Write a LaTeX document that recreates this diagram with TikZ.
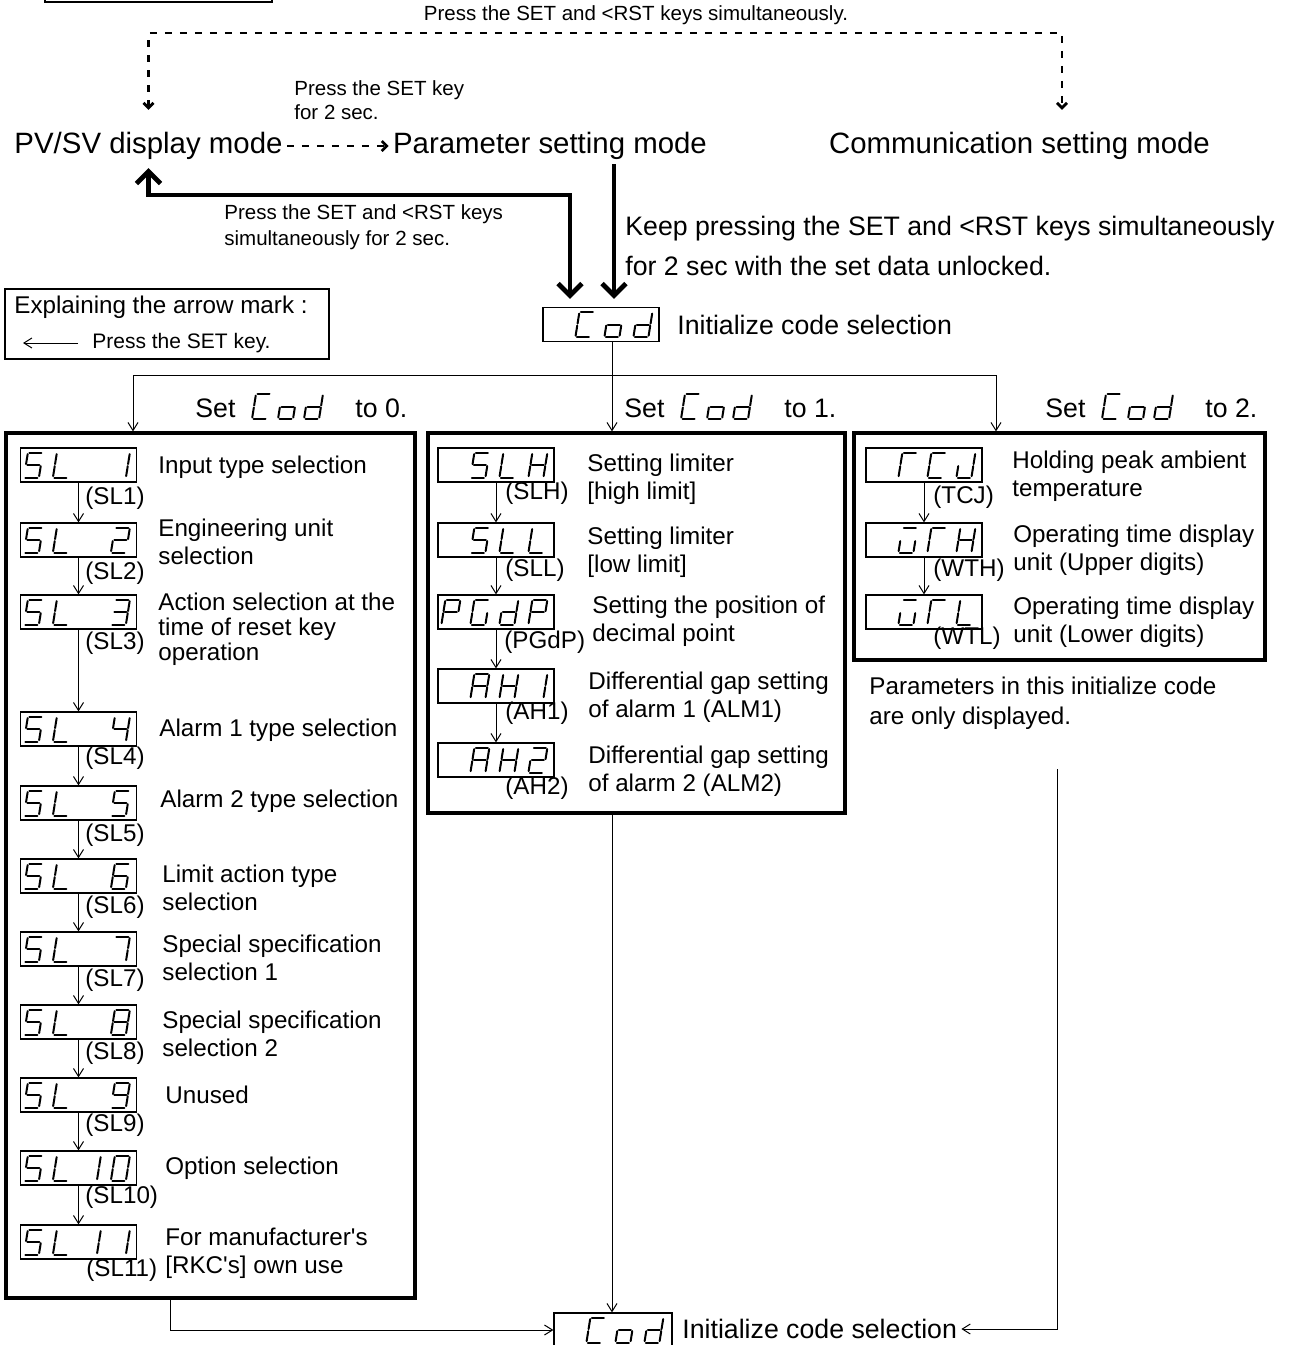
\documentclass[tikz,border=0pt]{standalone}
\usepackage{fontspec}
\setmainfont{Liberation Sans}
\usetikzlibrary{calc}
\usetikzlibrary{arrows.meta}

% seven segment display: segment paths (local units, y up)
\expandafter\def\csname segpatha\endcsname{(1.5,25) -- (13.5,25)}
\expandafter\def\csname segpathb\endcsname{(15,23.5) -- (15,13.5)}
\expandafter\def\csname segpathc\endcsname{(15,11.5) -- (15,1.5)}
\expandafter\def\csname segpathd\endcsname{(1.5,0) -- (13.5,0)}
\expandafter\def\csname segpathe\endcsname{(0,1.5) -- (0,11.5)}
\expandafter\def\csname segpathf\endcsname{(0,13.5) -- (0,23.5)}
\expandafter\def\csname segpathg\endcsname{(1.5,12.5) -- (13.5,12.5)}

% glyphs
\def\sgS{a,f,g,c,d}
\def\sgL{f,e,d}
\def\sgOne{b,c}
\def\sgTwo{a,b,g,e,d}
\def\sgThree{a,b,g,c,d}
\def\sgFour{f,g,b,c}
\def\sgFive{a,f,g,c,d}
\def\sgSix{a,f,g,e,d,c}
\def\sgSeven{a,b,c}
\def\sgEight{a,b,c,d,e,f,g}
\def\sgNine{a,b,c,d,f,g}
\def\sgZero{a,b,c,d,e,f}
\def\sgH{b,c,e,f,g}
\def\sgP{a,b,e,f,g}
\def\sgG{a,c,d,e,f}
\def\sgd{b,c,d,e,g}
\def\sgA{a,b,c,e,f,g}
\def\sgT{a,e,f}
\def\sgC{a,d,e,f}
\def\sgJ{b,c,d,e}
\def\sgW{a,c,d,e}
\def\sgo{c,d,e,g}

\newcommand\segdigit[2]{%
	\begin{scope}[shift={#1}, yscale=-1, xslant=-0.16]
		\edef\seglist{#2}
		\foreach \s in \seglist {\edef\segcmd{\noexpand\draw[seg] \csname segpath\s\endcsname;}\segcmd}
	\end{scope}}
% #1 display node, #2 cell 0..3, #3 glyph
\newcommand\dispchar[3]{\segdigit{($(#1.south west)+(4+29*#2,-5)$)}{#3}}

\tikzset{
	seg/.style={line width=1pt, line cap=round},
	dispbox/.style={
		draw,
		line width=0.6pt,
		minimum width=58pt,
		minimum height=17pt,
		inner sep=0pt,
	},
	frame/.style={
		draw,
		line width=1.6pt,
		inner sep=0pt,
	},
	title/.style={font=\fontsize{14.7}{17}\selectfont, inner sep=2pt},
	big/.style={font=\fontsize{13.35}{20}\selectfont, inner sep=0pt, align=left},
	body/.style={font=\fontsize{12.1}{14}\selectfont, inner sep=0pt, align=left, anchor=west},
	small/.style={font=\fontsize{10.25}{13}\selectfont, inner sep=0pt, align=left},
	flow/.style={
		line width=0.5pt,
		-{Straight Barb[length=4pt,width=5pt]}
	},
	thickflow/.style={
		line width=2.4pt,
		shorten >=4pt,
		-{Straight Barb[length=6pt,width=12pt]}
	},
	thickboth/.style={
		line width=2.4pt,
		shorten <=4pt,
		shorten >=2pt,
		{Straight Barb[length=6pt,width=12pt]}-{Straight Barb[length=6pt,width=12pt]}
	},
	dashflow/.style={
		line width=1.4pt,
		dash pattern=on 3.5pt off 4pt,
		-{Straight Barb[length=2.5pt,width=5pt]}
	},
	dashboth/.style={
		dashflow,
		shorten <=9pt,
		shorten >=9pt,
		{Straight Barb[length=2.5pt,width=5pt]}-{Straight Barb[length=2.5pt,width=5pt]}
	},
}

\begin{document}
\begin{tikzpicture}[x=0.5pt, y=-0.5pt]
	\useasboundingbox (0,0) rectangle (1289,1345);

	% box cut off by the top edge
	\node[dispbox, line width=0.9pt, minimum width=113.5pt] (topbox) at (158.5,-15) {};

	% modes
	\node[title] (pv)   at (148.5,146) {PV/SV display mode};
	\node[title] (par)  at (550,146)   {Parameter setting mode};
	\node[title] (comm) at (1019.5,146) {Communication setting mode};

	\node[small] (toptxt) at (636,15) {Press the SET and <RST keys simultaneously.};
	\coordinate (dashtop) at (1062,33);
	\draw[dashboth] (pv.north) |- (dashtop) -- (comm.north -| dashtop);

	\draw[dashflow] (pv.east) -- (par.west);
	\node[small, anchor=west, font=\fontsize{10.25}{12}\selectfont] (pvtxt) at (294,100) {Press the SET key\\for 2 sec.};

	% initialize code selection
	\node[dispbox] (cod) at (601,324.5) {};
	\dispchar{cod}{1}{\sgC}\dispchar{cod}{2}{\sgo}\dispchar{cod}{3}{\sgd}
	\node[big, anchor=west] (codtxt) at (677,325) {Initialize code selection};

	\draw[thickflow] (par.south -| 614,0) -- (cod.north -| 614,0);
	\draw[thickboth] (cod.north -| 570,0) |- (pv.south |- 0,195) -- (pv.south);

	\node[small, anchor=west] (rettxt) at (224,227) {Press the SET and <RST keys\\simultaneously for 2 sec.};
	\node[big, anchor=west] (keeptxt) at (625,246) {Keep pressing the SET and <RST keys simultaneously\\for 2 sec with the set data unlocked.};

	% arrow legend
	\node[draw, line width=0.6pt, minimum width=162pt, minimum height=35pt, inner sep=0pt] (legend) at (167,324) {};
	\node[body] (legtitle) at (14,307) {Explaining the arrow mark :};
	\node[small, anchor=west, font=\fontsize{10.5}{13}\selectfont] (legkey) at (92,343) {Press the SET key.};
	\coordinate (legtip) at (23,343);
	\draw[flow] ([xshift=-7pt]legkey.west) -- (legtip);

	% parameter groups
	\node[frame, minimum width=204.5pt, minimum height=432.5pt] (box0) at (210.5,865.5) {};
	\node[frame, minimum width=208.5pt, minimum height=190pt]   (box1) at (636.5,623) {};
	\node[frame, minimum width=205.5pt, minimum height=113.5pt] (box2) at (1059.5,546.5) {};

	\coordinate (brl) at (133,375);
	\coordinate (brr) at (996,375);
	\draw[line width=0.5pt] (brl) -- (brr);
	\draw[flow] (cod.south -| 612,0) -- (box1.north -| 612,0);
	\draw[flow] (brl) -- (box0.north -| brl);
	\draw[flow] (brr) -- (box2.north -| brr);

	\foreach \k/\xx in {0/195, 1/624, 2/1045} {
		\node[big, anchor=base west] (set\k) at (\xx,417) {Set};
		\segdigit{($(set\k.base west)+(57,2)$)}{\sgC}
		\segdigit{($(set\k.base west)+(83,2)$)}{\sgo}
		\segdigit{($(set\k.base west)+(109,2)$)}{\sgd}
		\node[big, anchor=base west] (to\k) at (\xx+160,417) {to \k.};
	}

	% Cod = 0
	\node[dispbox] (sl1)  at (78.5,465)  {};
	\node[dispbox] (sl2)  at (78.5,540)  {};
	\node[dispbox] (sl3)  at (78.5,612)  {};
	\node[dispbox] (sl4)  at (78.5,729)  {};
	\node[dispbox] (sl5)  at (78.5,803)  {};
	\node[dispbox] (sl6)  at (78.5,876)  {};
	\node[dispbox] (sl7)  at (78.5,949)  {};
	\node[dispbox] (sl8)  at (78.5,1022) {};
	\node[dispbox] (sl9)  at (78.5,1095) {};
	\node[dispbox] (sl10) at (78.5,1168) {};
	\node[dispbox] (sl11) at (78.5,1242) {};

	\foreach \dname/\dglyph in {sl1/\sgOne, sl2/\sgTwo, sl3/\sgThree, sl4/\sgFour, sl5/\sgFive, sl6/\sgSix, sl7/\sgSeven, sl8/\sgEight, sl9/\sgNine}
		{\dispchar{\dname}{0}{\sgS}\dispchar{\dname}{1}{\sgL}\dispchar{\dname}{3}{\dglyph}}
	\dispchar{sl10}{0}{\sgS}\dispchar{sl10}{1}{\sgL}\dispchar{sl10}{2}{\sgOne}\dispchar{sl10}{3}{\sgZero}
	\dispchar{sl11}{0}{\sgS}\dispchar{sl11}{1}{\sgL}\dispchar{sl11}{2}{\sgOne}\dispchar{sl11}{3}{\sgOne}

	\foreach \a/\b in {sl1/sl2, sl2/sl3, sl3/sl4, sl4/sl5, sl5/sl6, sl6/sl7, sl7/sl8, sl8/sl9, sl9/sl10, sl10/sl11}
		\draw[flow] (\a) -- (\b);

	\node[body] (sl1t)  at (158,467)  {Input type selection};
	\node[body] (sl2t)  at (158,542)  {Engineering unit\\selection};
	\node[body, font=\fontsize{12.1}{12.5}\selectfont] (sl3t) at (158,629) {Action selection at the\\time of reset key\\operation};
	\node[body] (sl4t)  at (159,730)  {Alarm 1 type selection};
	\node[body] (sl5t)  at (160,801)  {Alarm 2 type selection};
	\node[body] (sl6t)  at (162,888)  {Limit action type\\selection};
	\node[body] (sl7t)  at (162,958)  {Special specification\\selection 1};
	\node[body] (sl8t)  at (162,1034) {Special specification\\selection 2};
	\node[body] (sl9t)  at (165,1095) {Unused};
	\node[body] (sl10t) at (165,1168) {Option selection};
	\node[body] (sl11t) at (165,1253) {For manufacturer\textquotesingle s\\{[}RKC\textquotesingle s] own use};

	\node[body] (sl1c)  at (85,498)  {(SL1)};
	\node[body] (sl2c)  at (85,573)  {(SL2)};
	\node[body] (sl3c)  at (85,643)  {(SL3)};
	\node[body] (sl4c)  at (85,758)  {(SL4)};
	\node[body] (sl5c)  at (85,835)  {(SL5)};
	\node[body] (sl6c)  at (85,907)  {(SL6)};
	\node[body] (sl7c)  at (85,980)  {(SL7)};
	\node[body] (sl8c)  at (85,1053) {(SL8)};
	\node[body] (sl9c)  at (85,1125) {(SL9)};
	\node[body] (sl10c) at (85,1197) {(SL10)};
	\node[body] (sl11c) at (86,1270) {(SL11)};

	% Cod = 1
	\node[dispbox] (slh)  at (496,465) {};
	\node[dispbox] (sll)  at (496,540) {};
	\node[dispbox] (pgdp) at (496,612) {};
	\node[dispbox] (ah1)  at (496,686) {};
	\node[dispbox] (ah2)  at (496,760) {};

	\dispchar{slh}{1}{\sgS}\dispchar{slh}{2}{\sgL}\dispchar{slh}{3}{\sgH}
	\dispchar{sll}{1}{\sgS}\dispchar{sll}{2}{\sgL}\dispchar{sll}{3}{\sgL}
	\dispchar{pgdp}{0}{\sgP}\dispchar{pgdp}{1}{\sgG}\dispchar{pgdp}{2}{\sgd}\dispchar{pgdp}{3}{\sgP}
	\dispchar{ah1}{1}{\sgA}\dispchar{ah1}{2}{\sgH}\dispchar{ah1}{3}{\sgOne}
	\dispchar{ah2}{1}{\sgA}\dispchar{ah2}{2}{\sgH}\dispchar{ah2}{3}{\sgTwo}

	\foreach \a/\b in {slh/sll, sll/pgdp, pgdp/ah1, ah1/ah2}
		\draw[flow] (\a) -- (\b);

	\node[body] (slht)  at (587,479) {Setting limiter\\{[}high limit]};
	\node[body] (sllt)  at (587,552) {Setting limiter\\{[}low limit]};
	\node[body] (pgdpt) at (592,621) {Setting the position of\\decimal point};
	\node[body] (ah1t)  at (588,697) {Differential gap setting\\of alarm 1 (ALM1)};
	\node[body] (ah2t)  at (588,771) {Differential gap setting\\of alarm 2 (ALM2)};

	\node[body] (slhc)  at (505,493) {(SLH)};
	\node[body] (sllc)  at (505,570) {(SLL)};
	\node[body] (pgdpc) at (504,642) {(PGdP)};
	\node[body] (ah1c)  at (505,713) {(AH1)};
	\node[body] (ah2c)  at (505,788) {(AH2)};

	% Cod = 2
	\node[dispbox] (tcj) at (924,465) {};
	\node[dispbox] (wth) at (924,540) {};
	\node[dispbox] (wtl) at (924,612) {};

	\dispchar{tcj}{1}{\sgT}\dispchar{tcj}{2}{\sgC}\dispchar{tcj}{3}{\sgJ}
	\dispchar{wth}{1}{\sgW}\dispchar{wth}{2}{\sgT}\dispchar{wth}{3}{\sgH}
	\dispchar{wtl}{1}{\sgW}\dispchar{wtl}{2}{\sgT}\dispchar{wtl}{3}{\sgL}

	\draw[flow] (tcj) -- (wth);
	\draw[flow] (wth) -- (wtl);

	\node[body] (tcjt) at (1012,476) {Holding peak ambient\\temperature};
	\node[body] (wtht) at (1013,550) {Operating time display\\unit (Upper digits)};
	\node[body] (wtlt) at (1013,622) {Operating time display\\unit (Lower digits)};

	\node[body] (tcjc) at (933,497) {(TCJ)};
	\node[body] (wthc) at (933,570) {(WTH)};
	\node[body] (wtlc) at (933,638) {(WTL)};

	\node[body, font=\fontsize{12.1}{15}\selectfont] (note) at (869,703) {Parameters in this initialize code\\are only displayed.};

	% back to initialize code selection
	\node[dispbox, minimum width=59pt] (codend) at (613,1330) {};
	\dispchar{codend}{1}{\sgC}\dispchar{codend}{2}{\sgo}\dispchar{codend}{3}{\sgd}
	\node[big, anchor=west] (codendtxt) at (682,1329) {Initialize code selection};

	\draw[flow] (box0.south -| 170,0) |- (codend.west);
	\draw[flow] (box1.south -| 612,0) -- (codend.north -| 612,0);
	\coordinate (noteend) at (1057,769);
	\draw[flow] (noteend) |- ([xshift=2pt]codendtxt.east);
\end{tikzpicture}
\end{document}
